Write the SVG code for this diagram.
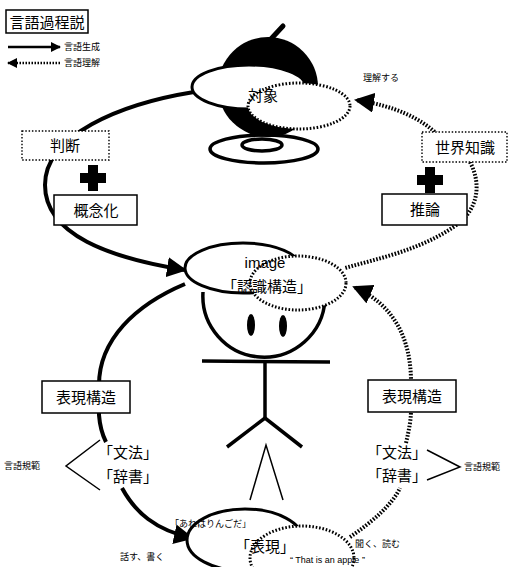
<svg xmlns="http://www.w3.org/2000/svg" width="511" height="567" viewBox="0 0 511 567">
  <defs>
    <marker id="head" viewBox="0 0 10 10" refX="9" refY="5" markerWidth="5" markerHeight="5" orient="auto" markerUnits="strokeWidth">
      <path d="M0,0 L10,5 L0,10 z" fill="#000"/>
    </marker>
    <marker id="headS" viewBox="0 0 10 10" refX="9" refY="5" markerWidth="4" markerHeight="4" orient="auto" markerUnits="strokeWidth">
      <path d="M0,0 L10,5 L0,10 z" fill="#000"/>
    </marker>
  </defs>
  <style>
    text { font-family: "Noto Sans CJK JP", "Noto Sans", sans-serif; fill: #000; }
    text.latin { font-family: "Liberation Sans", Arial, sans-serif; }
    .lbl { font-size: 15px; text-anchor: middle; }
    .sm { font-size: 9px; }
    .box { fill: #fff; stroke: #000; stroke-width: 1.5; }
    .dbox { fill: #fff; stroke: #000; stroke-width: 1.4; stroke-dasharray: 1.5 1.8; }
    .gen { fill: none; stroke: #000; stroke-width: 4; }
    .und { fill: none; stroke: #000; stroke-width: 4; stroke-dasharray: 1.6 1.6; }
    .ell { fill: #fff; stroke: #000; stroke-width: 3; }
    .dell { fill: #fff; stroke: #000; stroke-width: 3; stroke-dasharray: 1.6 1.8; }
    .thin { fill: none; stroke: #000; stroke-width: 1.5; }
    .fig { fill: none; stroke: #000; stroke-width: 3.5; }
  </style>

  <!-- title and legend -->
  <g id="title">
    <rect x="6" y="10" width="82" height="23" class="box"/>
    <text x="47" y="28" class="lbl" font-size="16">言語過程説</text>
  </g>
  <g id="legend">
    <line x1="8" y1="47" x2="60" y2="47" stroke="#000" stroke-width="2.5" marker-end="url(#headS)"/>
    <text x="64" y="50" class="sm">言語生成</text>
    <line x1="60" y1="63" x2="8" y2="63" stroke="#000" stroke-width="2.5" stroke-dasharray="1.5 1.5" marker-end="url(#headS)"/>
    <text x="64" y="66" class="sm">言語理解</text>
  </g>

  <!-- apple on its stand -->
  <g id="apple">
    <ellipse cx="264" cy="149" rx="54" ry="14" class="fig" stroke-width="4"/>
    <ellipse cx="262" cy="145" rx="20" ry="6" class="fig" stroke-width="4"/>
    <line x1="270" y1="40" x2="283" y2="26" stroke="#000" stroke-width="5" stroke-linecap="round"/>
    <circle cx="268" cy="87" r="50" fill="#000"/>
  </g>

  <!-- connectors -->
  <g id="connectors">
    <!-- generation: object -> image -->
    <path d="M194,92 C120,104 45,135 45,185 C45,235 110,258 185,270" class="gen" marker-end="url(#head)"/>
    <!-- generation: image -> expression structure -> expression -->
    <path d="M185,284 C135,305 99,340 99,385 L99,415 C100,428 103,436 106,442" class="gen"/>
    <path d="M122,488 C135,512 155,530 192,538" class="gen" marker-end="url(#head)"/>
    <!-- understanding: world knowledge -> object -->
    <path d="M437,134 C420,118 395,106 356,100" class="und" marker-end="url(#head)"/>
    <!-- understanding: inference -> image -->
    <path d="M470,162 C482,185 478,210 455,226 C420,250 380,258 345,268" class="und"/>
    <!-- understanding: expression -> rules -> expression structure -> image -->
    <path d="M350,537 C372,522 392,505 400,488" class="und"/>
    <path d="M406,443 C409,430 411,420 411,410" class="und"/>
    <path d="M411,382 C411,340 395,305 354,287" class="und" marker-end="url(#head)"/>
    <!-- language norm brackets -->
    <path d="M100,440 L66,466 L100,490" class="thin"/>
    <path d="M427,450 L460,467 L427,480" class="thin"/>
  </g>

  <!-- object -->
  <g id="object">
    <ellipse cx="249" cy="87" rx="57" ry="22" class="ell"/>
    <ellipse cx="299" cy="106" rx="51" ry="23" class="dell"/>
    <text x="263" y="101" class="lbl" font-size="16">対象</text>
    <text x="363" y="81" class="sm">理解する</text>
  </g>

  <g id="judgement">
    <rect x="22" y="131" width="87" height="29" class="dbox"/>
    <text x="65" y="151" class="lbl" font-size="16">判断</text>
  </g>
  <g id="plus-left">
    <path d="M88,165 h10 v8 h8 v10 h-8 v8 h-10 v-8 h-8 v-10 h8 z" fill="#000"/>
  </g>
  <g id="conceptualisation">
    <rect x="54" y="195" width="83" height="30" class="box"/>
    <text x="96" y="216" class="lbl" font-size="16">概念化</text>
  </g>

  <g id="world-knowledge">
    <rect x="422" y="132" width="85" height="30" class="dbox"/>
    <text x="465" y="153" class="lbl" font-size="16">世界知識</text>
  </g>
  <g id="plus-right">
    <path d="M425,167 h10 v8 h8 v10 h-8 v8 h-10 v-8 h-8 v-10 h8 z" fill="#000"/>
  </g>
  <g id="inference">
    <rect x="382" y="194" width="85" height="31" class="box"/>
    <text x="425" y="215" class="lbl" font-size="16">推論</text>
  </g>

  <!-- person -->
  <g id="person">
    <path d="M203,292 A61,61 0 1,0 325,300" class="fig"/>
    <ellipse cx="251" cy="325" rx="4" ry="11" fill="#000"/>
    <ellipse cx="283" cy="326" rx="4" ry="11" fill="#000"/>
    <line x1="202" y1="361" x2="330" y2="362" class="fig"/>
    <line x1="265" y1="361" x2="265" y2="418" class="fig"/>
    <path d="M227,447 L265,418 L302,447" class="fig"/>
    <path d="M250,500 L266,445 L283,500" class="thin"/>
  </g>

  <!-- image / cognitive structure -->
  <g id="image">
    <ellipse cx="243" cy="268" rx="58" ry="25" class="ell"/>
    <ellipse cx="298" cy="283" rx="48" ry="27" class="dell"/>
    <text x="265" y="268" class="lbl latin" font-size="18">image</text>
    <text x="267" y="292" class="lbl">「認識構造」</text>
  </g>

  <g id="expr-structure-left">
    <rect x="42" y="381" width="88" height="32" class="box"/>
    <text x="86" y="403" class="lbl" font-size="16">表現構造</text>
  </g>
  <g id="rules-left">
    <text x="128" y="458" class="lbl" font-size="16">「文法」</text>
    <text x="128" y="482" class="lbl" font-size="16">「辞書」</text>
    <text x="4" y="469" class="sm">言語規範</text>
  </g>

  <g id="expr-structure-right">
    <rect x="368" y="380" width="88" height="32" class="box"/>
    <text x="412" y="402" class="lbl" font-size="16">表現構造</text>
  </g>
  <g id="rules-right">
    <text x="397" y="458" class="lbl" font-size="16">「文法」</text>
    <text x="397" y="481" class="lbl" font-size="16">「辞書」</text>
    <text x="464" y="470" class="sm">言語規範</text>
  </g>

  <!-- expression -->
  <g id="expression">
    <ellipse cx="245" cy="540" rx="58" ry="31" class="ell"/>
    <ellipse cx="302" cy="558" rx="52" ry="32" class="dell"/>
    <text x="265" y="552" class="lbl" font-size="17">「表現」</text>
    <text x="170" y="527" class="sm">「あれはりんごだ」</text>
    <text x="120" y="560" class="sm">話す、書く</text>
    <text x="355" y="547" class="sm">聞く、読む</text>
    <text x="290" y="563" class="sm latin">“ That is an apple ”</text>
  </g>
</svg>
